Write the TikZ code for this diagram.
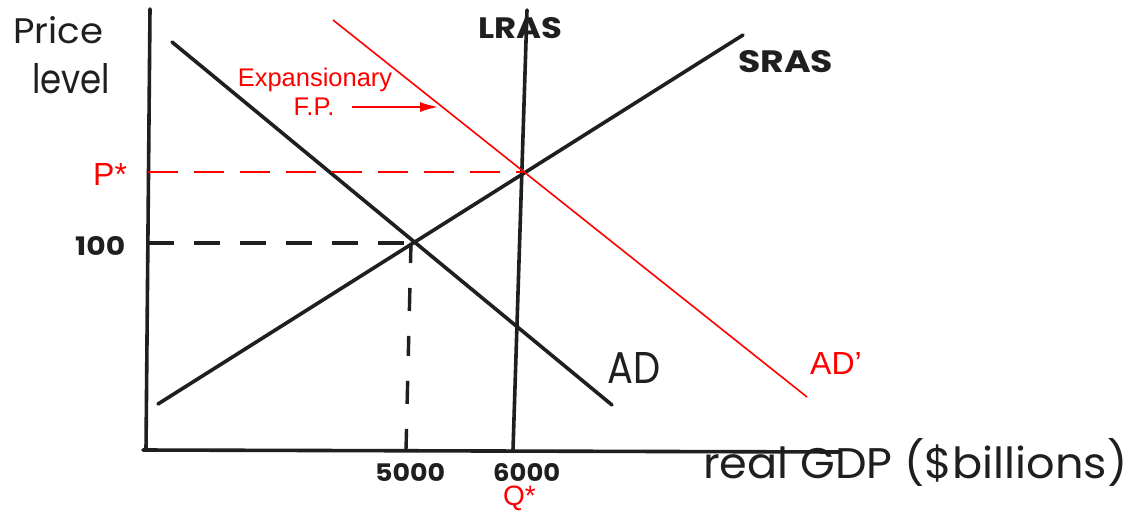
\documentclass[tikz,border=0pt]{standalone}
\usepackage{fontspec}
\usepackage{graphicx}
\setmainfont{Liberation Sans}
\newfontfamily\hand{Poppins}
\usetikzlibrary{arrows.meta}
\begin{document}
\begin{tikzpicture}[x=1pt,y=-1pt,
  ink/.style={line width=3.6pt, draw=black!88, line cap=round},
  redline/.style={line width=1.6pt, draw=red},
  bdash/.style={line width=3.4pt, draw=black!88, dash pattern=on 26pt off 20pt},
  rdash/.style={line width=1.6pt, draw=red, dash pattern=on 30pt off 16pt},
  hw/.style={inner sep=0pt, anchor=base west, text=black!88},
  rt/.style={inner sep=0pt, text=red}]
\useasboundingbox[fill=white] (0,0) rectangle (1135,512);
% axes
\coordinate (ytop) at (150,9);
\coordinate (ybot) at (146,450);
\coordinate (xbeg) at (143,450);
\coordinate (xend) at (840,452);
\draw[ink] (ytop) -- (ybot);
\draw[ink] (xbeg) -- (xend);
% curves
\coordinate (ad1) at (172,42);
\coordinate (ad2) at (612,405);
\coordinate (sr1) at (158,404);
\coordinate (sr2) at (743,35);
\coordinate (lr1) at (527,10);
\coordinate (lr2) at (513,450);
\coordinate (adp1) at (333,20);
\coordinate (adp2) at (807,397);
\coordinate (e0) at (411,243);
\coordinate (e1) at (523,172);
\coordinate (p100) at (148,243);
\coordinate (pstar) at (148,172);
\coordinate (q5000) at (406,450);
\draw[ink] (ad1) -- (ad2);
\draw[ink] (sr1) -- (sr2);
\draw[ink] (lr1) -- (lr2);
\draw[redline] (adp1) -- (adp2);
% dashed guides
\draw[rdash] (pstar) -- (e1);
\draw[bdash] (p100) -- (e0);
\draw[bdash, dash pattern=on 20pt off 25pt on 23pt off 25pt] (e0) -- (q5000);
% black handwritten-style labels
\node[hw] (price) at (13,43) {\resizebox{90pt}{27pt}{\hand Price}};
\node[hw] (level) at (32,93) {\resizebox{78pt}{30pt}{\hand level}};
\node[hw] (lras) at (478,38) {\resizebox{84pt}{21pt}{\hand\bfseries LRAS}};
\node[hw] (sras) at (738,72) {\resizebox{95pt}{22pt}{\hand\bfseries SRAS}};
\node[hw] (ad) at (607,383) {\resizebox{53pt}{31pt}{\hand AD}};
\node[hw] (l100) at (75,255) {\resizebox{50pt}{19pt}{\hand\bfseries 100}};
\node[hw] (l5000) at (375,481) {\resizebox{70pt}{18pt}{\hand\bfseries 5000}};
\node[hw] (l6000) at (493,481) {\resizebox{67pt}{18pt}{\hand\bfseries 6000}};
\node[hw] (gdp) at (703,478) {\resizebox{424pt}{40pt}{\hand real GDP (\$billions)}};
% red labels
\node[rt, anchor=base] (exp) at (315,86) {\fontsize{25.5}{30}\selectfont Expansionary};
\node[rt, anchor=base] (fp) at (314,115) {\fontsize{25.5}{30}\selectfont F.P.};
\node[rt, anchor=base west] (pst) at (93,185) {\fontsize{32}{36}\selectfont P*};
\node[rt, anchor=base west] (qst) at (503,505) {\fontsize{28}{32}\selectfont Q*};
\node[rt, anchor=base west] (adp) at (810,374) {\fontsize{32}{36}\selectfont AD’};
\coordinate (arr1) at (352,107);
\coordinate (arr2) at (438,107);
\draw[redline, -{Latex[length=18pt,width=10pt]}] (arr1) -- (arr2);
\end{tikzpicture}
\end{document}
